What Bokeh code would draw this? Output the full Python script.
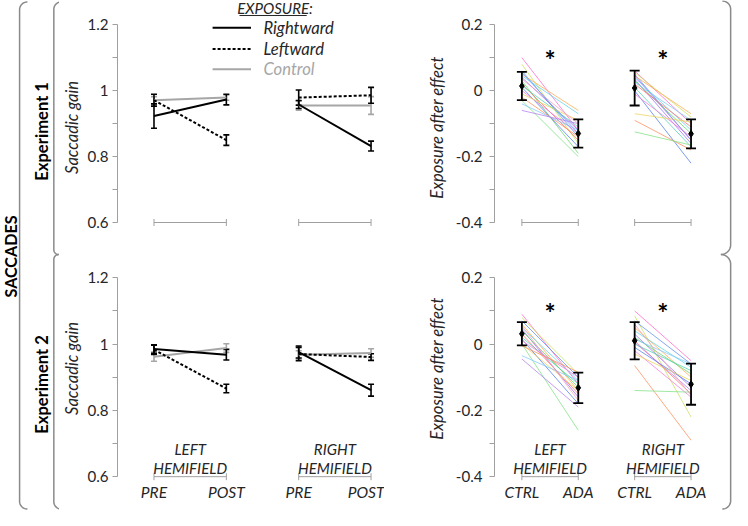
import numpy as np
from bokeh.plotting import figure
from bokeh.layouts import row, column
from bokeh.models import Range1d, FixedTicker
from bokeh.core.properties import value
from bokeh.embed import file_html
from bokeh.resources import INLINE

# ---------------- data ----------------
section_label = "SACCADES"
experiments = ["Experiment 1", "Experiment 2"]
hemifields = ["LEFT", "RIGHT"]
gain_conditions = ["PRE", "POST"]
ae_conditions = ["CTRL", "ADA"]
exposure_names = ["Rightward", "Leftward", "Control"]
legend_title = "EXPOSURE:"
gain_label = "Saccadic gain"
ae_label = "Exposure after effect"

gain_ticks = [0.6, 0.8, 1.0, 1.2]
gain_tick_labels = ["0.6", "0.8", "1", "1.2"]
gain_minor = [0.7, 0.9, 1.1]
ae_ticks = [-0.4, -0.2, 0.0, 0.2]
ae_tick_labels = ["-0.4", "-0.2", "0", "0.2"]
ae_minor = [-0.3, -0.1, 0.1]

# saccadic gain; order: LEFT-PRE, LEFT-POST, RIGHT-PRE, RIGHT-POST
e1_rightward = [0.923, 0.973, 0.958, 0.832]
e1_rightward_se = [0.037, 0.016, 0.012, 0.015]
e1_leftward = [0.971, 0.850, 0.979, 0.986]
e1_leftward_se = [0.018, 0.016, 0.023, 0.024]
e1_control = [0.971, 0.979, 0.955, 0.955]
e1_control_se = [0.011, 0.008, 0.014, 0.027]

e2_rightward = [0.985, 0.968, 0.976, 0.861]
e2_rightward_se = [0.013, 0.016, 0.018, 0.018]
e2_leftward = [0.983, 0.866, 0.970, 0.961]
e2_leftward_se = [0.014, 0.013, 0.020, 0.010]
e2_control = [0.962, 0.988, 0.968, 0.973]
e2_control_se = [0.014, 0.013, 0.012, 0.013]

# exposure after-effect means; order: LEFT-CTRL, LEFT-ADA, RIGHT-CTRL, RIGHT-ADA
e1_ae_mean = [0.014, -0.130, 0.008, -0.131]
e1_ae_se = [0.043, 0.043, 0.053, 0.044]
e2_ae_mean = [0.031, -0.132, 0.010, -0.121]
e2_ae_se = [0.035, 0.046, 0.056, 0.062]

# individual participants (CTRL, ADA)
e1_left_ctrl = [0.10, 0.08, 0.06, 0.05, 0.045, 0.04, 0.03, 0.02, 0.015, 0.01, 0.0, -0.01, -0.02, -0.03, -0.04, -0.06, 0.035, 0.055]
e1_left_ada = [-0.12, -0.16, -0.14, -0.06, -0.07, -0.12, -0.19, -0.15, -0.11, -0.17, -0.13, -0.09, -0.14, -0.20, -0.12, -0.10, -0.10, -0.13]
e1_right_ctrl = [0.06, 0.055, 0.05, 0.045, 0.04, 0.035, 0.03, 0.02, 0.01, 0.0, -0.01, -0.07, -0.09, -0.125, 0.025, 0.045]
e1_right_ada = [-0.10, -0.08, -0.15, -0.07, -0.12, -0.16, -0.13, -0.11, -0.17, -0.22, -0.14, -0.095, -0.18, -0.165, -0.09, -0.15]
e2_left_ctrl = [0.09, 0.08, 0.07, 0.06, 0.05, 0.045, 0.04, 0.03, 0.02, 0.015, 0.01, 0.0, -0.005, 0.0, -0.035, -0.045, 0.055]
e2_left_ada = [-0.12, -0.09, -0.10, -0.14, -0.11, -0.16, -0.13, -0.15, -0.12, -0.18, -0.10, -0.14, -0.085, -0.26, -0.11, -0.19, -0.17]
e2_right_ctrl = [0.10, 0.085, 0.07, 0.05, 0.04, 0.03, 0.02, 0.01, 0.0, -0.01, -0.02, -0.03, -0.065, -0.14, 0.015, 0.005, 0.06]
e2_right_ada = [-0.05, -0.22, -0.06, -0.10, -0.07, -0.13, -0.09, -0.15, -0.08, -0.12, -0.16, -0.11, -0.29, -0.145, -0.06, -0.14, -0.155]

subject_colors = ["#ff66cc", "#c8e05a", "#5b8def", "#ffa94d", "#5fd3e8", "#9b6bf0",
                  "#63d66a", "#ff6b6b", "#4fd1b5", "#4f7be8", "#f07ad8", "#e8d35a",
                  "#ff8c5a", "#7ee081", "#7fc8f8", "#b07cf0", "#f5a0c0", "#6fa0ff"]

# ---------------- geometry (reference pixels) ----------------
SX = 732 / 748
SY = 510 / 526
FS = 0.975
FONT = "Lato"
DARK = "#262626"
AXIS_GRAY = "#a0a0a0"
CTRL_GRAY = "#a6a6a6"
BRACE_GRAY = "#8a8a8a"


def spx(v):
    return int(round(v * SX))


def spy(v):
    return int(round(v * SY))


def fs(v):
    return "%.1fpx" % (v * FS)


COLS = [0, 60, 392, 730, 748]
ROWS = [0, 262, 526]
BOTTOM_FRAME_PX = 497


def gain_xmap(px):
    return (px - 152.0) / 75.33


def ae_xmap(px):
    return (px - 533.0) / 57.67


def make_ymap(ticks, ytop, ybot):
    hi, lo = ticks[-1], ticks[0]
    return lambda py: hi - (py - ytop) * (hi - lo) / (ybot - ytop)


def make_fig(col, rowi, axis_px, xmap, ymap, ticks, tick_labels, minor, label,
             label_standoff, axis_label_standoff):
    frame_bottom = ROWS[1] if rowi == 0 else BOTTOM_FRAME_PX
    w = spx(COLS[col + 1]) - spx(COLS[col])
    h = spy(ROWS[rowi + 1]) - spy(ROWS[rowi])
    p = figure(width=w, height=h, output_backend="svg", toolbar_location=None,
               x_range=Range1d(xmap(axis_px), xmap(COLS[col + 1])),
               y_range=Range1d(ymap(frame_bottom), ymap(ROWS[rowi])),
               min_border_left=spx(axis_px) - spx(COLS[col]), min_border_right=0,
               min_border_top=0, min_border_bottom=spy(ROWS[rowi + 1]) - spy(frame_bottom),
               x_axis_location="below" if rowi == 1 else None)
    p.outline_line_color = None
    p.background_fill_color = "white"
    p.border_fill_color = "white"
    p.grid.visible = False
    ax = p.yaxis[0]
    ax.ticker = FixedTicker(ticks=ticks, minor_ticks=minor)
    ax.bounds = (ticks[0], ticks[-1])
    ax.major_label_overrides = {t: s for t, s in zip(ticks, tick_labels)}
    ax.axis_line_color = AXIS_GRAY
    ax.major_tick_line_color = AXIS_GRAY
    ax.minor_tick_line_color = AXIS_GRAY
    ax.major_tick_in = 0
    ax.major_tick_out = 5
    ax.minor_tick_in = 0
    ax.minor_tick_out = 5
    ax.major_label_standoff = label_standoff
    ax.major_label_text_font = FONT
    ax.major_label_text_font_size = fs(15.5)
    ax.major_label_text_color = DARK
    ax.axis_label = label
    ax.axis_label_text_font = FONT
    ax.axis_label_text_font_style = "italic"
    ax.axis_label_text_font_size = fs(17)
    ax.axis_label_text_color = DARK
    ax.axis_label_standoff = axis_label_standoff
    return p


def style_xaxis(p, labels):
    xa = p.xaxis[0]
    xa.ticker = FixedTicker(ticks=[0, 1, 2, 3])
    xa.major_label_overrides = {i: s for i, s in enumerate(labels)}
    xa.axis_line_color = None
    xa.major_tick_line_color = None
    xa.minor_tick_line_color = None
    xa.major_tick_out = 0
    xa.major_label_standoff = 0
    xa.major_label_text_font = FONT
    xa.major_label_text_font_style = "italic"
    xa.major_label_text_font_size = fs(16)
    xa.major_label_text_color = DARK


XPOS = [0, 1, 2, 3]


def group_bars(p, base):
    p.segment(x0=XPOS[0::2], y0=[base, base], x1=XPOS[1::2], y1=[base, base],
              line_color=AXIS_GRAY, line_width=1)
    p.scatter(x=XPOS, y=[base] * 4, marker="dash", angle=np.pi / 2, size=7,
              line_color=AXIS_GRAY, line_width=1)


def error_bars(p, mean, se, color, width, cap):
    lo = [m - s for m, s in zip(mean, se)]
    hi = [m + s for m, s in zip(mean, se)]
    p.segment(x0=XPOS, y0=lo, x1=XPOS, y1=hi, line_color=color, line_width=width)
    p.scatter(x=XPOS + XPOS, y=lo + hi, marker="dash", size=cap, line_color=color,
              line_width=width)


def gain_panel(p, right, right_se, left, left_se, ctrl, ctrl_se):
    group_bars(p, gain_ticks[0])
    series = [(ctrl, ctrl_se, CTRL_GRAY, "solid"),
              (left, left_se, "black", "3 2"),
              (right, right_se, "black", "solid")]
    for mean, se, color, dash in series:
        error_bars(p, mean, se, color, 1.6, 6)
    for mean, se, color, dash in series:
        p.multi_line(xs=[XPOS[0:2], XPOS[2:4]], ys=[mean[0:2], mean[2:4]],
                     line_color=color, line_width=2, line_dash=dash)


def ae_panel(p, groups, mean, se, star_y):
    group_bars(p, ae_ticks[0])
    for g, (ctrl, ada) in enumerate(groups):
        n = len(ctrl)
        cols = [subject_colors[i % len(subject_colors)] for i in range(n)]
        p.segment(x0=[XPOS[2 * g]] * n, y0=ctrl, x1=[XPOS[2 * g + 1]] * n, y1=ada,
                  line_color=cols, line_width=1, line_alpha=0.75)
    error_bars(p, mean, se, "black", 1.8, 10)
    p.scatter(x=XPOS, y=mean, marker="diamond", size=7, fill_color="black",
              line_color="black")
    p.text(x=[0.5, 2.5], y=[star_y, star_y], text=["*", "*"], text_align="center",
           text_baseline="middle", text_font=value(FONT), text_font_style="bold",
           text_font_size=fs(27), text_color="black")


def hemi_labels(p, y_top, y_bot):
    p.text(x=[0.5, 2.5], y=[y_top, y_top], text=hemifields, text_align="center",
           text_baseline="middle", text_font=value(FONT), text_font_style="italic",
           text_font_size=fs(15.5), text_color=DARK)
    p.text(x=[0.5, 2.5], y=[y_bot, y_bot], text=["HEMIFIELD", "HEMIFIELD"],
           text_align="center", text_baseline="middle", text_font=value(FONT),
           text_font_style="italic", text_font_size=fs(15.5), text_color=DARK)


# ---------------- panels ----------------
ym_tl = make_ymap(gain_ticks, 25, 229)
ym_tr = make_ymap(ae_ticks, 25, 229)
ym_bl = make_ymap(gain_ticks, 286, 491)
ym_br = make_ymap(ae_ticks, 286, 491)

TL = make_fig(1, 0, 114, gain_xmap, ym_tl, gain_ticks, gain_tick_labels, gain_minor,
              gain_label, 4, 2)
TR = make_fig(2, 0, 505, ae_xmap, ym_tr, ae_ticks, ae_tick_labels, ae_minor,
              ae_label, 7, 6)
BL = make_fig(1, 1, 114, gain_xmap, ym_bl, gain_ticks, gain_tick_labels, gain_minor,
              gain_label, 4, 2)
BR = make_fig(2, 1, 505, ae_xmap, ym_br, ae_ticks, ae_tick_labels, ae_minor,
              ae_label, 7, 6)

gain_panel(TL, e1_rightward, e1_rightward_se, e1_leftward, e1_leftward_se,
           e1_control, e1_control_se)
gain_panel(BL, e2_rightward, e2_rightward_se, e2_leftward, e2_leftward_se,
           e2_control, e2_control_se)
ae_panel(TR, [(e1_left_ctrl, e1_left_ada), (e1_right_ctrl, e1_right_ada)],
         e1_ae_mean, e1_ae_se, ym_tr(61))
ae_panel(BR, [(e2_left_ctrl, e2_left_ada), (e2_right_ctrl, e2_right_ada)],
         e2_ae_mean, e2_ae_se, ym_br(322))

style_xaxis(BL, gain_conditions * 2)
style_xaxis(BR, ae_conditions * 2)
hemi_labels(BL, ym_bl(462), ym_bl(482))
hemi_labels(BR, ym_br(462), ym_br(482))

# legend (top-left panel)
leg_y = [ym_tl(28), ym_tl(50), ym_tl(71)]
leg_styles = [("black", "solid"), ("black", "3 2"), (CTRL_GRAY, "solid")]
for yy, (c, d) in zip(leg_y, leg_styles):
    TL.line(x=[gain_xmap(213), gain_xmap(253)], y=[yy, yy], line_color=c, line_width=2,
            line_dash=d)
TL.text(x=[gain_xmap(266)] * 3, y=leg_y, text=exposure_names, text_align="left",
        text_baseline="middle", text_font=value(FONT), text_font_style="italic",
        text_font_size=fs(17), text_color=[DARK, DARK, CTRL_GRAY])
TL.text(x=[gain_xmap(278)], y=[ym_tl(8)], text=[legend_title], text_align="center",
        text_baseline="middle", text_font=value(FONT), text_font_style="italic",
        text_font_size=fs(15.5), text_color=DARK)
TL.line(x=[gain_xmap(241), gain_xmap(311)], y=[ym_tl(15.5), ym_tl(15.5)],
        line_color=DARK, line_width=1)


# ---------------- side strips with braces ----------------
def arc(cx, cy, r, t0, t1, n=16):
    t = np.linspace(t0, t1, n)
    return list(cx + r * np.cos(t)), list(cy + r * np.sin(t))


def strip(col):
    w = spx(COLS[col + 1]) - spx(COLS[col])
    h = spy(526)
    p = figure(width=w, height=h, output_backend="svg", toolbar_location=None,
               x_range=Range1d(COLS[col], COLS[col] + w / SX),
               y_range=Range1d(h / SY, 0), min_border=0,
               x_axis_location=None, y_axis_location=None)
    p.outline_line_color = None
    p.grid.visible = False
    p.background_fill_color = "white"
    p.border_fill_color = "white"
    return p


def path(*parts):
    xs, ys = [], []
    for px, py in parts:
        xs += px
        ys += py
    return xs, ys


LS = strip(0)
RS = strip(3)

# outer brace
xs, ys = path(arc(27.5, 9.5, 8, -np.pi / 2, -np.pi), arc(27.5, 516.5, 8, np.pi, np.pi / 2))
LS.line(xs, ys, line_color=BRACE_GRAY, line_width=1.5)
# inner left braces
xs, ys = path(arc(62, 9, 7.5, -np.pi / 2, -np.pi), arc(59.5, 257, 5, np.pi, np.pi / 2))
LS.line(xs, ys, line_color=BRACE_GRAY, line_width=1.5)
xs, ys = path(arc(59.5, 267, 5, -np.pi / 2, -np.pi), arc(62, 517, 7.5, np.pi, np.pi / 2))
LS.line(xs, ys, line_color=BRACE_GRAY, line_width=1.5)
# right braces
xs, ys = path(arc(738, 9, 8.5, -np.pi / 2, 0), arc(736.5, 252, 10, 0, np.pi / 2))
RS.line(xs, ys, line_color=BRACE_GRAY, line_width=1.5)
xs, ys = path(arc(736.5, 272, 10, -np.pi / 2, 0), arc(738, 516, 8.5, 0, np.pi / 2))
RS.line(xs, ys, line_color=BRACE_GRAY, line_width=1.5)

LS.text(x=[10], y=[264], text=[section_label], angle=np.pi / 2, text_align="center",
        text_baseline="middle", text_font=value(FONT), text_font_style="bold",
        text_font_size=fs(16.5), text_color="black")
LS.text(x=[42, 42], y=[135, 396], text=experiments, angle=np.pi / 2, text_align="center",
        text_baseline="middle", text_font=value(FONT), text_font_style="bold",
        text_font_size=fs(17), text_color="black")

layout = row(LS, column(row(TL, TR), row(BL, BR)), RS)

open("out.html", "w").write(file_html(layout, INLINE))
